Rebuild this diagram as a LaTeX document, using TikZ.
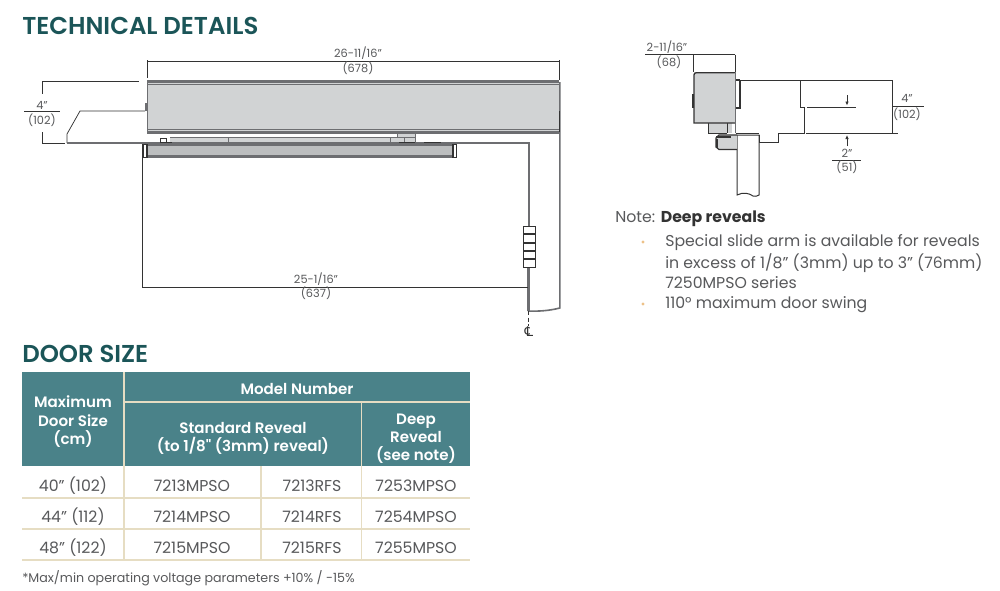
\documentclass[tikz,border=0pt]{standalone}
\usepackage{fontspec}
\usetikzlibrary{arrows.meta}
\setmainfont{Poppins}
\newfontfamily\titlefont{Poppins SemiBold}
\newfontfamily\medfont{Poppins Medium}
\newfontfamily\symfont{DejaVu Sans}
\definecolor{teal}{HTML}{4A8289}
\definecolor{ttl}{HTML}{1B5558}
\definecolor{tan}{HTML}{E6DDC3}
\definecolor{txt}{HTML}{58595B}
\definecolor{dk}{HTML}{333333}
\definecolor{gfill}{HTML}{D1D3D4}
\definecolor{gline}{HTML}{6D6E71}
\tikzset{
  lbl/.style={inner sep=0pt,text=txt,font=\fontsize{8.5pt}{10pt}\selectfont,align=center},
  title/.style={inner sep=0pt,anchor=west,text=ttl,font=\titlefont\fontsize{18.3pt}{20pt}\selectfont},
  body/.style={inner sep=0pt,anchor=west,text=txt,font=\fontsize{11.8pt}{14pt}\selectfont},
  bullet/.style={circle,fill=tan!70!orange,inner sep=0pt,minimum size=2.6pt},
  hd/.style={inner sep=0pt,text=white,align=center,font=\titlefont\fontsize{11.3pt}{12.4pt}\selectfont},
  cell/.style={inner sep=0pt,text=txt,font=\fontsize{11.8pt}{13pt}\selectfont},
  dimline/.style={draw=dk,line width=0.55pt},
  wall/.style={draw=dk,line width=0.75pt},
  heavy/.style={draw=gline,line width=1.7pt},
  rule/.style={draw=tan,line width=0.9pt},
}
\begin{document}
\begin{tikzpicture}[x=0.75pt,y=-0.75pt]
\useasboundingbox (0,0) rectangle (1000,590);
\fill[white] (0,0) rectangle (1000,590);

% titles
\node[title] (t1) at (22,26) {TECHNICAL DETAILS};
\node[title] (t2) at (22,354) {DOOR SIZE};

% ---- main elevation
\fill[gfill] (147,82) rectangle (559,132);
\draw[heavy] (147,81.5) -- (559,81.5);
\draw[draw=gline,line width=0.8pt] (147,84.5) -- (559,84.5);
\draw[draw=gline,line width=0.8pt] (147,129.5) -- (559,129.5);
\draw[heavy] (147,132.5) -- (559,132.5);
\draw[draw=gline,line width=0.7pt] (147,81) -- (147,133);
% right-hand wall and door
\draw[draw=gline,line width=1.2pt] (559.8,82) -- (559.8,308) .. controls (550,310.5) and (540,311.5) .. (528,311);
\draw[draw=dk,line width=1.2pt] (559.5,111) -- (559.5,132);
% top dim
\draw[dimline] (147,60) -- (147,78);
\draw[dimline] (559,60) -- (559,80);
\draw[dimline] (147,61) -- (559,61);
\node[lbl] (d1a) at (358,53) {26-11/16"};
\node[lbl] (d1b) at (358,68) {(678)};
% 4" left dim
\draw[dimline] (42,81) -- (139,81);
\draw[dimline] (42,143) -- (65,143);
\draw[dimline] (42,81) -- (42,94);
\draw[dimline] (42,132) -- (42,143);
\draw[dimline] (24,111) -- (60,111);
\node[lbl] (d2a) at (42,105) {4"};
\node[lbl] (d2b) at (42,120) {(102)};
% slab
\draw[dimline] (67,143) -- (67,134) -- (80,111) -- (145,111);
\fill[gline] (144.5,103) rectangle (147,111);
\draw[heavy] (67,143) -- (529,143) -- (529,226);
\draw[heavy] (528.5,267) -- (528.5,311);
% arm
\fill[gfill] (170,137.5) rectangle (415,142);
\draw[draw=gline,line width=0.6pt] (170,137.5) -- (415,137.5);
\draw[draw=dk,line width=0.6pt] (160,138) rectangle (166,142.5);
\fill[dk] (160,141.5) rectangle (172,143);
\draw[draw=gline,line width=0.6pt] (228,137) -- (228,142);
\draw[draw=gline,line width=0.6pt] (390,137) -- (390,142) (404,137) -- (404,142) (415,133.5) -- (415,142);
\fill[gfill] (397,133) rectangle (415,137);
\draw[draw=gline,line width=0.6pt] (397,133) rectangle (415,137);
\draw[draw=dk,line width=0.8pt] (399,142.5) -- (415,142.5) (424,142.5) -- (441,142.5);
% closer track
\fill[gfill!90!black] (145,145) rectangle (455,156);
\draw[heavy] (147,145) -- (453,145);
\draw[heavy] (147,156.5) -- (453,156.5);
\fill[white] (143.5,145) rectangle (147,157);
\draw[draw=dk,line width=0.9pt] (143,144.5) rectangle (147,157.5);
\fill[white] (453,145) rectangle (456.5,157);
\draw[draw=dk,line width=0.9pt] (453,144.5) rectangle (456.5,157.5);
% door bottom dim
\draw[dimline] (142,157) -- (142,287) -- (528,287);
\node[lbl] (d3a) at (316,279) {25-1/16"};
\node[lbl] (d3b) at (316,293) {(637)};
% hinge
\draw[draw=dk,line width=0.7pt,fill=white] (523.3,226) rectangle (535,267);
\foreach \yy in {234,243,251,259} \draw[draw=dk,line width=0.9pt] (523.3,\yy) -- (535,\yy);
% centre line
\draw[draw=dk,line width=0.7pt,densely dashed] (528.5,311) -- (528.5,326);
\node[inner sep=0pt,text=dk,font=\symfont\fontsize{10pt}{12pt}\selectfont] (cl) at (529,332) {\char"2104};

% ---- right section
\draw[dimline] (645,54.5) -- (735,54.5);
\draw[dimline] (693.5,54.5) -- (693.5,72);
\draw[dimline] (735,54.5) -- (735,72);
\node[lbl] (d4a) at (667,47) {2-11/16"};
\node[lbl] (d4b) at (669,62) {(68)};
% arm bracket
\fill[gfill] (708,123) rectangle (732,133);
\draw[draw=dk,line width=0.6pt] (708,123) -- (708,133) -- (727,133);
\draw[draw=dk,line width=0.6pt] (727,123) -- (727,133);
% housing
\fill[gfill,rounded corners=2pt] (694,72.7) rectangle (735.5,123);
\draw[draw=dk,line width=1pt] (735.5,123) -- (694,123) -- (694,75) .. controls (694,73.5) and (695,72.7) .. (696.5,72.7) -- (735.5,72.7);
\draw[draw=dk,line width=1.6pt] (692.8,94) -- (692.8,108);
\draw[draw=gline,line width=0.7pt] (735.5,72.7) -- (735.5,133);
% strip and wall
\draw[draw=dk,line width=1.1pt] (740,80) -- (740,108) -- (736,108);
\draw[draw=dk,line width=0.8pt] (736,80) -- (740,80);
\draw[wall] (740,80) -- (892,80);
\draw[wall] (800,80) -- (800,107) -- (804,107) -- (804,133) -- (778,133) -- (778,142) -- (759,142) -- (759,135);
\draw[wall] (735.5,133) -- (759,133);
% door
\draw[wall] (737,135) -- (737,195) .. controls (743,192) and (749,193) .. (753,196) .. controls (755,197) and (757,196) .. (759,195) -- (759,135) -- cycle;
% closer section
\draw[draw=dk,line width=0.9pt,fill=gfill] (737,135) -- (719,135) -- (716,138) -- (716,147) -- (719,149.5) -- (737,149.5);
\fill[dk] (716,135.5) rectangle (731,137.5);
\draw[draw=dk,line width=1.2pt] (717,139) -- (717,148);
% dims right
\draw[dimline] (807,107) -- (856,107);
\draw[dimline] (806,133) -- (898,133);
\draw[dimline] (892,80) -- (892,133);
\draw[dimline] (892,106) -- (924,106);
\node[lbl] (d5a) at (907,98) {4"};
\node[lbl] (d5b) at (907,114) {(102)};
\draw[dimline,-{Latex[length=3pt,width=2.6pt]}] (847,95) -- (847,105.5);
\draw[dimline,-{Latex[length=3pt,width=2.6pt]}] (847,146) -- (847,135);
\draw[dimline] (832,160) -- (861,160);
\node[lbl] (d6a) at (847,153) {2"};
\node[lbl] (d6b) at (847,167) {(51)};

% ---- note
\node[body] (note) at (615,219) {Note: \textbf{\color{dk}Deep reveals}};
\node[bullet] (b1) at (643,242) {};
\node[body] (n1) at (665,243) {Special slide arm is available for reveals};
\node[body] (n2) at (665,263) {in excess of 1/8" (3mm) up to 3" (76mm)};
\node[body] (n3) at (665,283) {7250MPSO series};
\node[bullet] (b2) at (643,304) {};
\node[body] (n4) at (665,305) {110° maximum door swing};

% ---- table
\fill[teal] (22,372) rectangle (470,466);
\draw[rule] (124,372) -- (124,466);
\draw[rule] (124,402) -- (470,402);
\draw[rule] (361.5,402) -- (361.5,466);
\draw[rule] (124,466) -- (124,560);
\draw[rule] (261,466) -- (261,560);
\draw[rule] (361.5,466) -- (361.5,560);
\foreach \yy in {498,529,560} \draw[rule] (22,\yy) -- (470,\yy);
\node[hd] (h1) at (73,422) {Maximum\\[1.5pt]Door Size\\[1.5pt](cm)};
\node[hd] (h2) at (297,388.5) {Model Number};
\node[hd] (h3) at (243,438.5) {Standard Reveal\\[0.5pt](to 1/8" (3mm) reveal)};
\node[hd] (h4) at (416,438.5) {Deep\\[1pt]Reveal\\[1pt](see note)};
\node[cell] (a1) at (73,486) {40" (102)};
\node[cell] (a2) at (192,486) {7213MPSO};
\node[cell] (a3) at (312,486) {7213RFS};
\node[cell] (a4) at (416,486) {7253MPSO};
\node[cell] (b1c) at (73,517) {44" (112)};
\node[cell] (b2c) at (192,517) {7214MPSO};
\node[cell] (b3c) at (312,517) {7214RFS};
\node[cell] (b4c) at (416,517) {7254MPSO};
\node[cell] (c1) at (73,548) {48" (122)};
\node[cell] (c2) at (192,548) {7215MPSO};
\node[cell] (c3) at (312,548) {7215RFS};
\node[cell] (c4) at (416,548) {7255MPSO};
\node[inner sep=0pt,anchor=west,text=txt,font=\fontsize{9.5pt}{11pt}\selectfont] (foot) at (22,578) {*Max/min operating voltage parameters +10\% / -15\%};
\end{tikzpicture}
\end{document}
